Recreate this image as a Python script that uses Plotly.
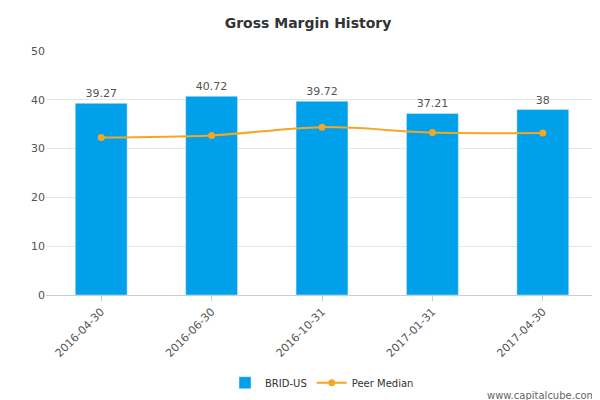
import plotly.graph_objects as go

categories = ["2016-04-30", "2016-06-30", "2016-10-31", "2017-01-31", "2017-04-30"]
brid = [39.27, 40.72, 39.72, 37.21, 38]
brid_labels = ["39.27", "40.72", "39.72", "37.21", "38"]
peer = [32.3, 32.7, 34.4, 33.3, 33.2]

fig = go.Figure()
fig.add_bar(x=categories, y=brid, name="BRID-US", marker_color="#00a0ea", width=0.47,
            text=brid_labels, textposition="outside", textfont=dict(size=11, color="#555"),
            cliponaxis=False)
fig.add_scatter(x=categories, y=peer, name="Peer Median", mode="lines+markers",
                line=dict(color="#f5a623", width=2, shape="spline"),
                marker=dict(size=7, color="#f5a623"))
fig.update_layout(
    width=600, height=400, plot_bgcolor="white", paper_bgcolor="white",
    font=dict(family="DejaVu Sans", color="#555", size=11),
    title=dict(text="<b>Gross Margin History</b>", x=0.5, y=0.975, xanchor="center", yanchor="top",
               font=dict(size=14, color="#333")),
    margin=dict(l=38, r=10, t=43, b=113),
    showlegend=True,
    legend=dict(orientation="h", x=0.5, xanchor="center", y=-0.3, yanchor="top",
                font=dict(size=10, color="#333")),
)
fig.update_yaxes(range=[0, 50], dtick=10, showgrid=True, gridcolor="#e6e6e6",
                 zeroline=False, showline=False, tickfont=dict(size=11, color="#555"))
fig.update_xaxes(type="category", showline=True, linecolor="#c0d0e0", ticks="outside",
                 tickcolor="#c0d0e0", tickangle=-45, tickfont=dict(size=11, color="#555"),
                 showgrid=False)
fig.add_annotation(text="www.capitalcube.com", xref="paper", yref="paper", x=1.0, y=-0.38,
                   xanchor="right", yanchor="top", showarrow=False,
                   font=dict(size=10, color="#666"))
fig.write_html("out.html")
